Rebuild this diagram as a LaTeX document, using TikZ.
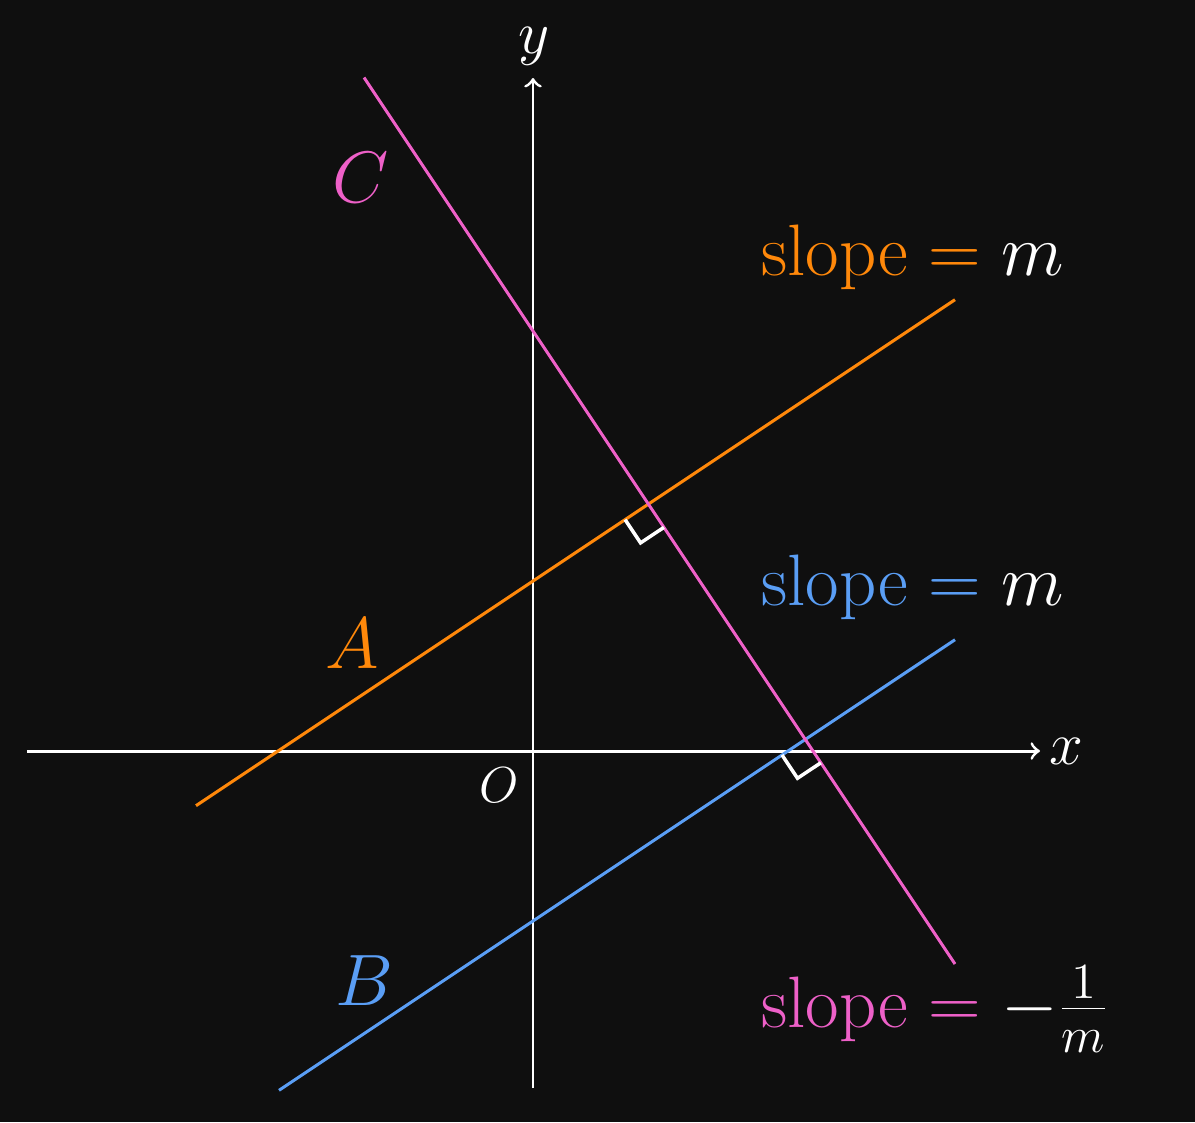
\documentclass[tikz,border=0pt]{standalone}
\usepackage{xcolor}
\usetikzlibrary{positioning,calc}

\definecolor{bgdark}{RGB}{15,15,15}
\definecolor{lineorange}{RGB}{255,136,10}
\definecolor{lineblue}{RGB}{90,158,245}
\definecolor{linepink}{RGB}{238,96,200}

\newcommand{\slopefont}{\fontsize{19.5}{23}\selectfont}
\newcommand{\letterfont}{\fontsize{21}{25}\selectfont}

\begin{document}
\begin{tikzpicture}[line width=0.85pt, >=to,
    axis/.style={white, ->},
    rightmark/.style={white, line width=1pt},
    slopelabel/.style={anchor=base west, inner sep=0pt, text=white, font=\slopefont}]
    \fill[bgdark] (-5.33,-3.71) rectangle (6.62,7.51);
    \useasboundingbox (-5.33,-3.71) rectangle (6.62,7.51);

    % axes
    \coordinate (xmin) at (-5.06,0);
    \coordinate (xmax) at (5.07,0);
    \coordinate (ymin) at (0,-3.37);
    \coordinate (ymax) at (0,6.73);
    \draw[axis] (xmin) -- (xmax);
    \draw[axis] (ymin) -- (ymax);
    \node[text=white, font=\fontsize{17}{20}\selectfont] (xlab) at (5.33,0) {$x$};
    \node[text=white, font=\fontsize{17}{20}\selectfont] (ylab) at (0.01,7.05) {$y$};
    \node[text=white, font=\fontsize{14}{17}\selectfont] (olab) at (-0.34,-0.34) {$O$};

    % the three lines
    \coordinate (A1) at (-3.37,-0.547);
    \coordinate (A2) at (4.22,4.513);
    \coordinate (B1) at (-2.54,-3.393);
    \coordinate (B2) at (4.22,1.113);
    \coordinate (C1) at (-1.69,6.735);
    \coordinate (C2) at (4.22,-2.13);
    \draw[lineorange] (A1) -- (A2);
    \draw[lineblue] (B1) -- (B2);
    \draw[linepink] (C1) -- (C2);

    % right angles
    \coordinate (P1) at (1.1538,2.4692);
    \coordinate (P2) at (2.7231,0.1154);
    \foreach \p in {P1,P2}
        \draw[rightmark] ($(\p)+(-0.233,-0.155)$) -- ++(0.155,-0.233) -- ++(0.233,0.155);

    % labels
    \node[text=linepink, font=\letterfont, anchor=base] (clab) at (-1.72,5.49) {$C$};
    \node[text=lineorange, font=\letterfont, anchor=base] (alab) at (-1.81,0.83) {$A$};
    \node[text=lineblue, font=\letterfont, anchor=base] (blab) at (-1.69,-2.54) {$B$};

    \node[slopelabel] (slopeA) at (2.27,4.76)
        {$\textcolor{lineorange}{\mathrm{slope}} \mathrel{\textcolor{lineorange}{=}} m$};
    \node[slopelabel] (slopeB) at (2.27,1.46)
        {$\textcolor{lineblue}{\mathrm{slope}} \mathrel{\textcolor{lineblue}{=}} m$};
    \node[slopelabel] (slopeC) at (2.27,-2.76)
        {$\textcolor{linepink}{\mathrm{slope}} \mathrel{\textcolor{linepink}{=}} -\frac{1}{m}$};
\end{tikzpicture}
\end{document}
